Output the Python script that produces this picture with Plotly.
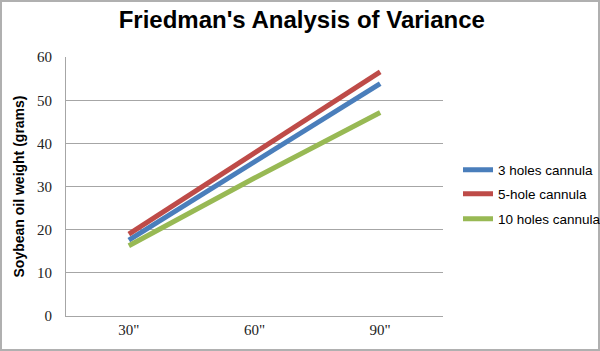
import plotly.graph_objects as go

categories = ['30"', '60"', '90"']
series_names = ["3 holes cannula", "5-hole cannula", "10 holes cannula"]
holes3 = [17.6, 35.8, 53.9]
hole5 = [19.0, 37.8, 56.6]
holes10 = [16.3, 32.0, 47.2]
colors = ["#4a7ebb", "#be4b48", "#98b954"]
y_ticks = [0, 10, 20, 30, 40, 50, 60]

PW, PH = 377, 259
fig = go.Figure()
legend_ys = [170, 194, 219]
legend_keys = ["legend2", "legend3", "legend4"]
for name, vals, c, lk in zip(series_names, [holes3, hole5, holes10], colors, legend_keys):
    fig.add_trace(go.Scatter(x=categories, y=vals, name=name, mode="lines",
                             line=dict(color=c, width=5), legend=lk, showlegend=True))

legend_common = dict(xanchor="left", yanchor="middle", bgcolor="rgba(0,0,0,0)",
                     xref="container", yref="container",
                     font=dict(family="Liberation Sans, Arial", size=13.5, color="black"),
                     itemwidth=30)
for lk, ly in zip(legend_keys, legend_ys):
    fig.update_layout(**{lk: dict(x=458 / 600, y=1 - ly / 351, **legend_common)})

fig.update_layout(
    width=600, height=351,
    margin=dict(l=66, r=157, t=57, b=35, autoexpand=False),
    paper_bgcolor="white", plot_bgcolor="white",
    title=dict(text="<b>Friedman's Analysis of Variance</b>", x=0.503, xanchor="center",
               y=1 - 20 / 351, yanchor="middle", xref="container",
               font=dict(family="Liberation Sans, Arial", size=24, color="black")),
    xaxis=dict(type="category", range=[-0.5, 2.5], showgrid=False, showline=True,
               linecolor="#a6a6a6", linewidth=1, ticks="",
               tickfont=dict(family="Liberation Serif, serif", size=15, color="#222")),
    yaxis=dict(range=[0, 60.05], tickvals=y_ticks, showgrid=True, gridcolor="#a6a6a6",
               gridwidth=1, showline=True, linecolor="#a6a6a6", linewidth=1, zeroline=False,
               ticks="outside", ticklen=10, tickcolor="rgba(0,0,0,0)",
               tickfont=dict(family="Liberation Serif, serif", size=15, color="#222"),
               title=dict(text="<b>Soybean oil weight (grams)</b>", standoff=9,
                          font=dict(family="Liberation Sans, Arial", size=14, color="black"))),
    shapes=[dict(type="rect", xref="paper", yref="paper", x0=-65 / PW, x1=1 + 156 / PW,
                 y0=-34 / PH, y1=1 + 56 / PH, line=dict(color="#b0b0b0", width=2))],
)
fig.write_html("out.html")
